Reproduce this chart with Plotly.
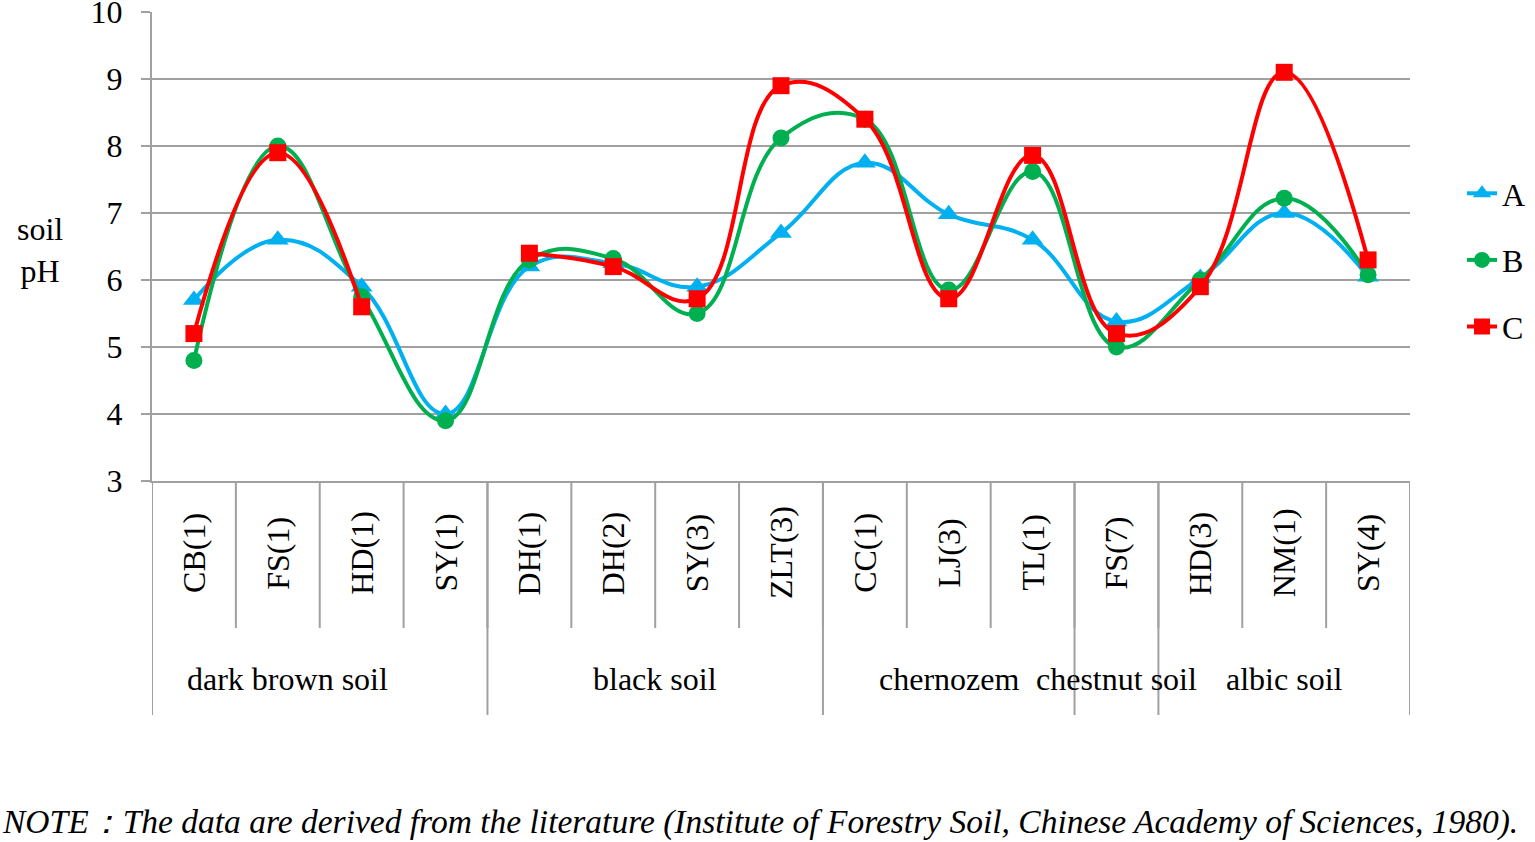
import plotly.graph_objects as go

# soil sample sites and their soil groups
sites = ['CB(1)', 'FS(1)', 'HD(1)', 'SY(1)', 'DH(1)', 'DH(2)', 'SY(3)', 'ZLT(3)',
         'CC(1)', 'LJ(3)', 'TL(1)', 'FS(7)', 'HD(3)', 'NM(1)', 'SY(4)']
groups = ['dark brown soil', 'black soil', 'chernozem', 'chestnut soil', 'albic soil']
group_sizes = [4, 4, 3, 1, 3]

# soil pH
ph_a = [5.7, 6.6, 5.9, 4.0, 6.2, 6.25, 5.9, 6.7, 7.75, 6.98, 6.6, 5.38, 6.03, 7.0, 6.05]
ph_b = [4.8, 8.0, 5.75, 3.9, 6.3, 6.32, 5.5, 8.12, 8.4, 5.85, 7.62, 5.0, 6.0, 7.22, 6.08]
ph_c = [5.2, 7.9, 5.6, None, 6.4, 6.2, 5.72, 8.9, 8.4, 5.72, 7.86, 5.2, 5.9, 9.1, 6.3]

FONT = 'Liberation Serif'
FS = 32
GRID = '#a0a0a0'

# pixel geometry of the plot area
W, H = 1535, 842
L, R, T, B = 152, 1410, 12, 481
def py(p):
    # pixel row -> paper y
    return (B - p) / (B - T)
def px(p):
    return (p - L) / (R - L)

fig = go.Figure()
series = [('A', ph_a, '#00b0f0', 'triangle-up', 19),
          ('B', ph_b, '#00b050', 'circle', 17),
          ('C', ph_c, '#ff0000', 'square', 17)]
for name, vals, col, sym, sz in series:
    fig.add_trace(go.Scatter(
        x=list(range(len(sites))), y=vals, name=name, legendgroup=name,
        mode='lines+markers',
        line=dict(color=col, width=4, shape='spline', smoothing=1.2),
        marker=dict(color=col, symbol=sym, size=sz),
        connectgaps=False))

shapes = []
annotations = []

# inner category separators
for i in range(len(sites) + 1):
    shapes.append(dict(type='line', xref='x', yref='paper', x0=i - 0.5, x1=i - 0.5,
                       y0=0, y1=py(628), line=dict(color=GRID, width=2)))
# group separators
pos = 0
bounds = [0]
for s in group_sizes:
    pos += s
    bounds.append(pos)
for b in bounds:
    shapes.append(dict(type='line', xref='x', yref='paper', x0=b - 0.5, x1=b - 0.5,
                       y0=0, y1=py(715), line=dict(color=GRID, width=2)))

for i, s in enumerate(sites):
    annotations.append(dict(x=i, y=py(553), xref='x', yref='paper', text=s,
                            textangle=-90, showarrow=False, xanchor='center', yanchor='middle',
                            font=dict(family=FONT, size=FS, color='black')))
for k, (g, a, b) in enumerate(zip(groups, bounds[:-1], bounds[1:])):
    cx = (a + b - 1) / 2
    annotations.append(dict(x=cx, y=py(679), xref='x', yref='paper', text=g,
                            showarrow=False, xanchor='center', yanchor='middle',
                            xshift=-32 if k == 0 else 0,
                            font=dict(family=FONT, size=FS, color='black')))

annotations.append(dict(x=px(40), y=py(250), xref='paper', yref='paper', text='soil<br>pH',
                        showarrow=False, xanchor='center', yanchor='middle', align='center',
                        font=dict(family=FONT, size=FS, color='black')))
annotations.append(dict(x=px(0), y=py(822), xref='paper', yref='paper',
                        text='<i>NOTE：The data are derived from the literature (Institute of Forestry Soil, Chinese Academy of Sciences, 1980).</i>',
                        showarrow=False, xanchor='left', yanchor='middle',
                        font=dict(family=FONT, size=33.5, color='black')))

fig.update_layout(
    width=W, height=H,
    margin=dict(l=L, r=W - R, t=T, b=H - B, autoexpand=False),
    paper_bgcolor='white', plot_bgcolor='white',
    font=dict(family=FONT, size=FS, color='black'),
    shapes=shapes, annotations=annotations,
    legend=dict(x=px(1462), y=py(260), xanchor='left', yanchor='middle',
                font=dict(family=FONT, size=FS), tracegroupgap=22,
                traceorder='grouped', bgcolor='rgba(0,0,0,0)'),
)
fig.update_xaxes(range=[-0.5, len(sites) - 0.5], showgrid=False, zeroline=False,
                 showticklabels=False, ticks='', showline=True, linecolor=GRID, linewidth=2,
                 automargin=False)
fig.update_yaxes(range=[3, 10], dtick=1, showgrid=True, gridcolor=GRID, gridwidth=2,
                 zeroline=False, showline=True, linecolor=GRID, linewidth=2,
                 ticks='outside', ticklen=9, tickcolor=GRID, tickwidth=2,
                 tickfont=dict(family=FONT, size=FS), ticklabelstandoff=12,
                 ticklabeloverflow='allow', automargin=False)

fig.write_html('out.html', config={'displayModeBar': False},
               post_script="document.body.style.margin='0';")
